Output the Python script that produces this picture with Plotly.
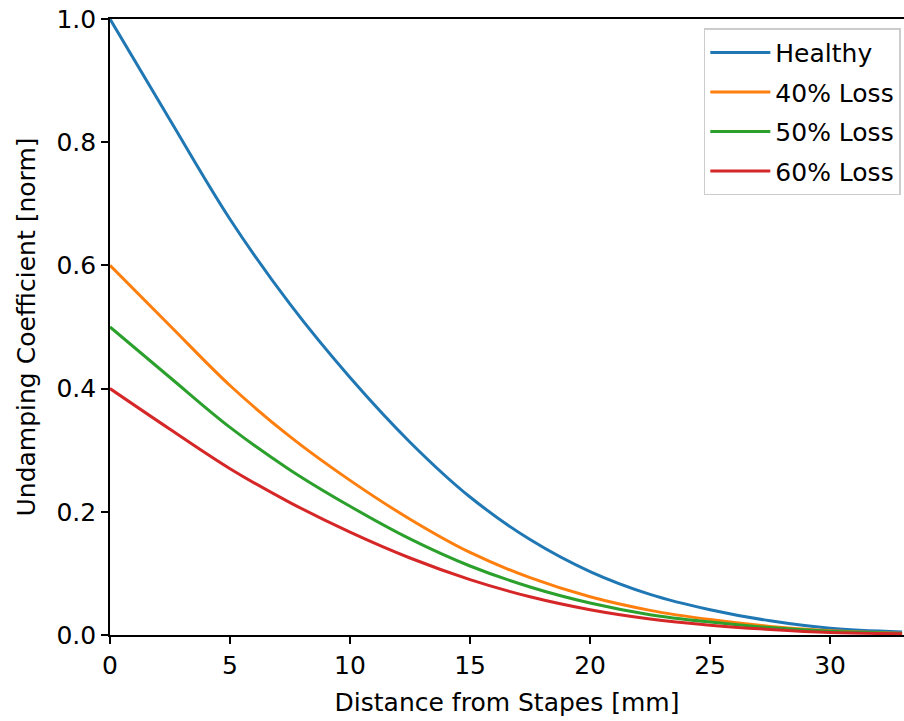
import plotly.graph_objects as go

distance_mm = [0, 2.5, 5, 7.5, 10, 12.5, 15, 17.5, 20, 22.5, 25, 27.5, 30, 33]
healthy = [1.0, 0.836, 0.675, 0.537, 0.418, 0.313, 0.224, 0.155, 0.103, 0.066, 0.041, 0.023, 0.011, 0.005]
loss_40 = [0.60, 0.502, 0.405, 0.322, 0.251, 0.188, 0.134, 0.093, 0.062, 0.040, 0.025, 0.014, 0.007, 0.003]
loss_50 = [0.50, 0.418, 0.337, 0.268, 0.209, 0.156, 0.112, 0.078, 0.052, 0.033, 0.021, 0.012, 0.006, 0.0025]
loss_60 = [0.40, 0.334, 0.270, 0.215, 0.167, 0.125, 0.090, 0.062, 0.041, 0.026, 0.016, 0.009, 0.004, 0.002]

series = [
    ("Healthy", healthy, "#1f77b4"),
    ("40% Loss", loss_40, "#ff7f0e"),
    ("50% Loss", loss_50, "#2ca02c"),
    ("60% Loss", loss_60, "#d62728"),
]

FONT = "DejaVu Sans"
FS = 25

fig = go.Figure()
for name, vals, col in series:
    fig.add_trace(go.Scatter(
        x=distance_mm, y=vals, mode="lines", name=name, legendgroup=name,
        line=dict(color=col, width=3, shape="spline", smoothing=1.0),
    ))

axis_common = dict(
    showgrid=False, zeroline=False, showline=True, linecolor="black", linewidth=1.6,
    ticks="outside", ticklen=7, tickwidth=1.6, tickcolor="black",
    tickfont=dict(family=FONT, size=FS, color="black"),
    ticklabeloverflow="allow",
)

fig.update_layout(
    width=904, height=721,
    margin=dict(l=110, r=0, t=19, b=86),
    paper_bgcolor="white", plot_bgcolor="white",
    font=dict(family=FONT, size=FS, color="black"),
    xaxis=dict(range=[0, 33.08], tickvals=[0, 5, 10, 15, 20, 25, 30], mirror=True,
               title=dict(text="Distance from Stapes [mm]", font=dict(family=FONT, size=FS), standoff=15),
               **axis_common),
    yaxis=dict(range=[0, 1.0], tickvals=[0, 0.2, 0.4, 0.6, 0.8, 1.0], tickformat=".1f", mirror=False,
               title=dict(text="Undamping Coefficient [norm]", font=dict(family=FONT, size=FS), standoff=14),
               **axis_common),
    legend=dict(
        x=0.996, y=0.985, xanchor="right", yanchor="top",
        bgcolor="rgba(255,255,255,0.8)", bordercolor="#cccccc", borderwidth=1.5,
        font=dict(family=FONT, size=FS, color="black"),
        itemwidth=60, tracegroupgap=4,
    ),
    showlegend=True,
)

fig.write_html(
    "out.html",
    config={"displayModeBar": False},
    post_script="document.body.style.margin='0';document.body.style.overflow='hidden';",
)
